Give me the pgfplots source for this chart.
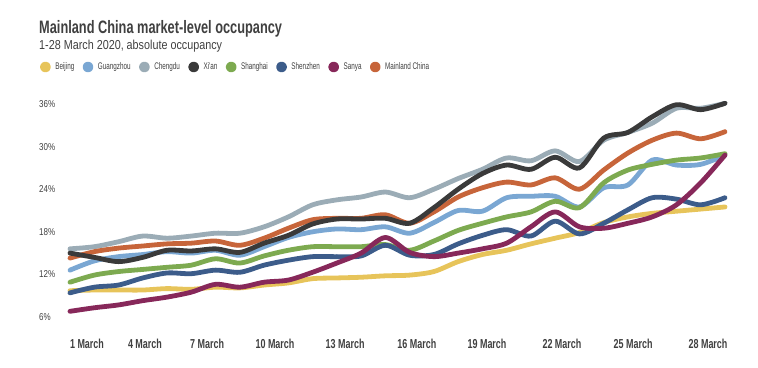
\documentclass[border=0pt]{standalone}
\usepackage{pgfplots}
\pgfplotsset{compat=1.18}
\usepackage{pgfplotstable}
\usepackage{fontspec}
\setmainfont{Liberation Sans}
\newfontfamily\titlefont{Liberation Sans}[FakeStretch=0.71]
\newfontfamily\subfont{Liberation Sans}[FakeStretch=0.83]
\newfontfamily\legfont{Liberation Sans}[FakeStretch=0.66]
\newfontfamily\xfont{Liberation Sans}[FakeStretch=0.69]
\newfontfamily\yfont{Liberation Sans}[FakeStretch=0.80]

\definecolor{txt}{RGB}{64,64,64}
\definecolor{cBeijing}{RGB}{231,196,90}
\definecolor{cGuangzhou}{RGB}{122,167,211}
\definecolor{cChengdu}{RGB}{155,172,182}
\definecolor{cXian}{RGB}{58,58,58}
\definecolor{cShanghai}{RGB}{125,170,80}
\definecolor{cShenzhen}{RGB}{60,92,138}
\definecolor{cSanya}{RGB}{135,40,90}
\definecolor{cChina}{RGB}{199,101,58}

\pgfplotstableread{
day Beijing Guangzhou Chengdu Xian Shanghai Shenzhen Sanya China
1 9.7 12.6 15.6 15.0 10.9 9.4 6.8 14.3
2 9.8 13.9 15.9 14.4 11.9 10.2 7.3 15.2
3 9.8 14.5 16.6 13.8 12.4 10.5 7.7 15.7
4 9.8 14.8 17.4 14.4 12.7 11.5 8.3 16.0
5 10.0 15.2 17.1 15.4 13.0 12.2 8.8 16.3
6 9.9 15.0 17.4 15.3 13.3 12.1 9.5 16.4
7 10.2 15.4 17.8 15.6 14.2 12.6 10.6 16.7
8 10.1 14.7 17.8 15.1 13.6 12.3 10.2 16.1
9 10.5 15.9 18.7 16.4 14.6 13.3 10.9 17.1
10 10.8 17.2 20.1 17.5 15.4 14.0 11.2 18.5
11 11.4 18.0 21.8 19.1 15.9 14.5 12.3 19.7
12 11.5 18.4 22.5 19.8 15.9 14.5 13.6 19.9
13 11.6 18.3 22.9 19.8 15.9 14.6 15.0 19.9
14 11.8 18.7 23.6 19.9 16.2 16.1 17.2 20.4
15 11.9 17.8 22.8 19.2 15.4 14.7 15.1 19.2
16 12.4 19.3 24.0 21.4 16.7 14.8 14.5 20.8
17 13.8 21.0 25.5 24.0 18.2 16.3 15.0 22.9
18 14.8 20.9 26.8 26.2 19.2 17.5 15.6 24.2
19 15.4 22.8 28.4 27.4 20.1 18.3 16.4 25.0
20 16.3 23.0 28.0 26.8 20.8 17.4 18.7 24.6
21 17.1 23.0 29.4 28.5 22.3 19.5 20.8 25.6
22 17.9 21.5 27.9 27.0 21.4 17.7 18.7 24.0
23 19.3 24.2 30.9 31.2 24.9 19.2 18.5 26.7
24 20.1 24.6 32.0 32.0 26.7 21.1 19.2 29.1
25 20.6 28.1 33.3 34.2 27.5 22.8 20.1 30.9
26 20.9 27.4 35.4 35.9 28.1 22.6 21.8 31.9
27 21.2 27.5 35.4 35.2 28.4 21.8 24.9 31.1
28 21.5 28.8 36.1 36.1 29.0 22.8 28.8 32.1
}\occ

\begin{document}
\begin{tikzpicture}
\useasboundingbox (0,0) rectangle (758pt,367pt);
\begin{axis}[
  at={(70pt,50pt)}, anchor=south west,
  scale only axis, width=655pt, height=213pt,
  xmin=1, xmax=28, ymin=6, ymax=36, clip=false,
  axis line style={draw=none}, tick style={draw=none}, major tick length=0pt,
  xtick={1.70,4.09,6.65,9.45,12.34,15.30,18.19,21.28,24.21,27.30},
  xticklabels={1 March,4 March,7 March,10 March,13 March,16 March,19 March,22 March,25 March,28 March},
  ytick={6,12,18,24,30,36},
  yticklabels={6\%,12\%,18\%,24\%,30\%,36\%},
  xticklabel style={anchor=base, inner sep=0pt, yshift=-31pt, text=txt, font=\xfont\bfseries\fontsize{13}{13}\selectfont},
  yticklabel style={anchor=west, inner sep=0pt, xshift=-31pt, text=txt, font=\yfont\fontsize{10}{10}\selectfont},
  legend image code/.code={\fill (0pt,0pt) circle (3.0pt);},
  legend columns=-1,
  legend style={at={(-0.0458,1.1737)}, anchor=west, draw=none, fill=none,
    inner sep=0pt, outer sep=0pt, text=txt,
    font=\legfont\fontsize{9.6}{10}\selectfont,
    nodes={inner sep=0pt},
    /tikz/every odd column/.append style={column sep=4.5pt},
    /tikz/every even column/.append style={column sep=8.3pt}},
  every axis plot/.append style={line width=4.8pt, smooth, line cap=round, line join=round},
]
\addlegendimage{cBeijing}\addlegendentry{Beijing}
\addlegendimage{cGuangzhou}\addlegendentry{Guangzhou}
\addlegendimage{cChengdu}\addlegendentry{Chengdu}
\addlegendimage{cXian}\addlegendentry{Xi'an}
\addlegendimage{cShanghai}\addlegendentry{Shanghai}
\addlegendimage{cShenzhen}\addlegendentry{Shenzhen}
\addlegendimage{cSanya}\addlegendentry{Sanya}
\addlegendimage{cChina}\addlegendentry{Mainland China}

\addplot[cBeijing, forget plot] table[x=day, y=Beijing] {\occ};
\addplot[cGuangzhou, forget plot] table[x=day, y=Guangzhou] {\occ};
\addplot[cChengdu, forget plot] table[x=day, y=Chengdu] {\occ};
\addplot[cChina, forget plot] table[x=day, y=China] {\occ};
\addplot[cXian, forget plot] table[x=day, y=Xian] {\occ};
\addplot[cShanghai, forget plot] table[x=day, y=Shanghai] {\occ};
\addplot[cShenzhen, forget plot] table[x=day, y=Shenzhen] {\occ};
\addplot[cSanya, forget plot] table[x=day, y=Sanya] {\occ};
\end{axis}
\node[anchor=base west, inner sep=0pt, text=txt, font=\titlefont\bfseries\fontsize{18}{18}\selectfont] at (39pt,333.7pt) {Mainland China market-level occupancy};
\node[anchor=base west, inner sep=0pt, text=txt, font=\subfont\fontsize{13}{13}\selectfont] at (39pt,317pt) {1-28 March 2020, absolute occupancy};
\end{tikzpicture}
\end{document}
